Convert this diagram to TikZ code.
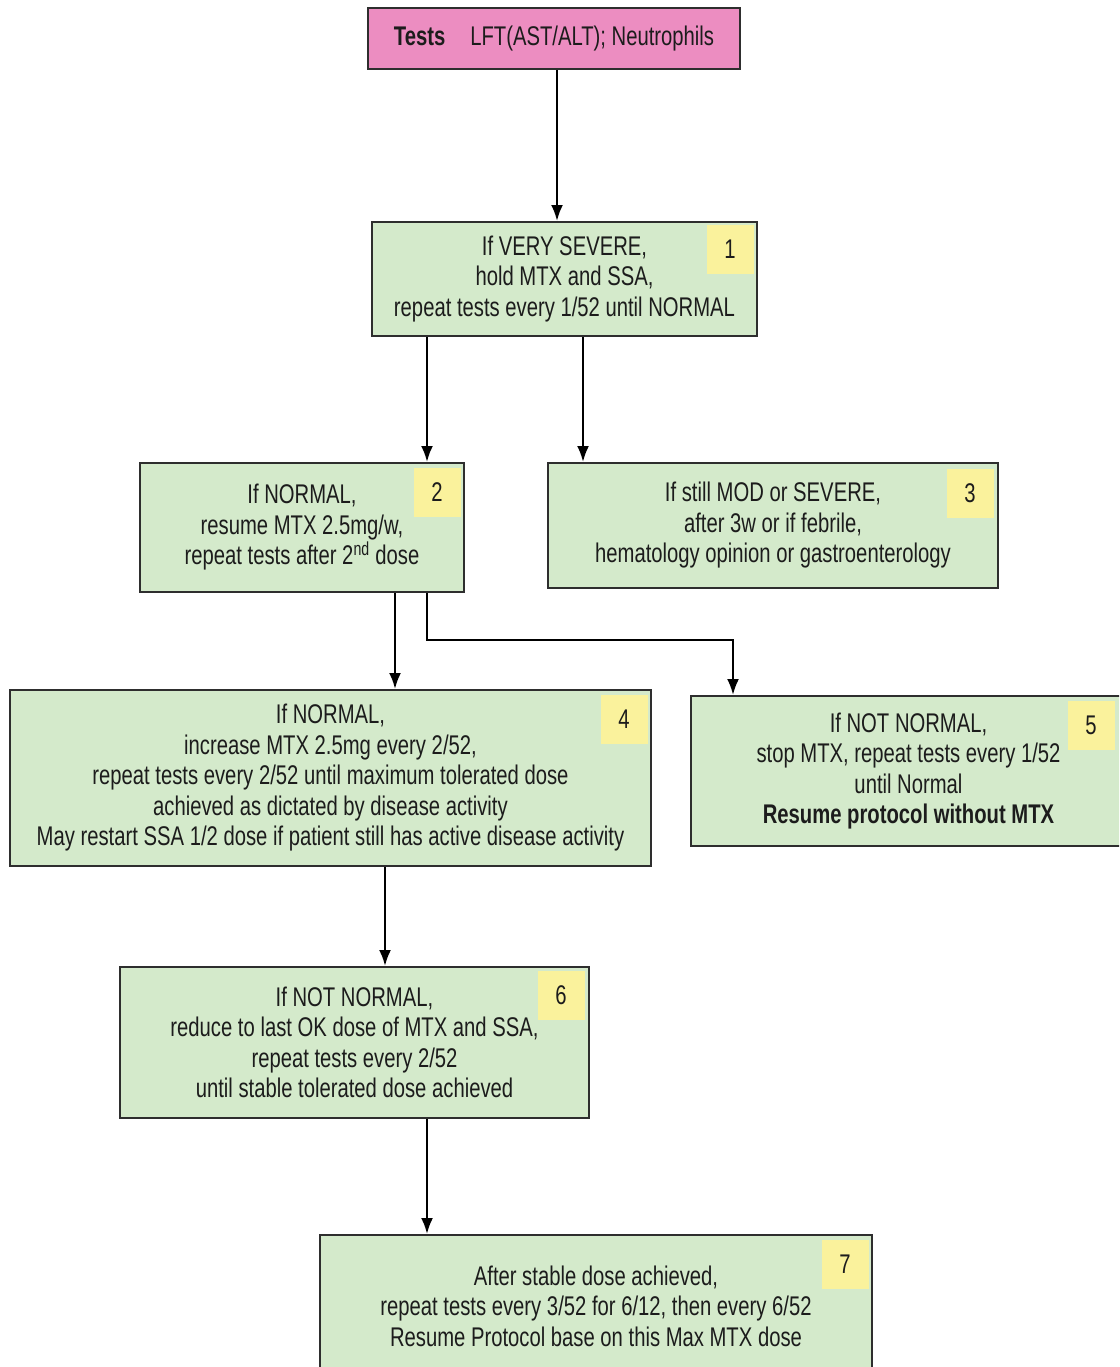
\documentclass[tikz,border=0pt]{standalone}
\usepackage{fontspec}
\setmainfont[FakeStretch=0.75]{Liberation Sans}
\usetikzlibrary{arrows.meta}
\definecolor{boxgreen}{HTML}{D4EACB}
\definecolor{badgeyellow}{HTML}{FAF29C}
\definecolor{testpink}{HTML}{EC8DC1}
\definecolor{edge}{HTML}{2E2E2E}
\definecolor{ink}{HTML}{1C1C1C}
\begin{document}
\begin{tikzpicture}[x=1pt,y=-1pt,
  stepbox/.style={draw=edge, line width=2pt, fill=boxgreen, align=center,
    text=ink, font=\fontsize{27}{30.5}\selectfont, inner sep=0pt},
  testbox/.style={stepbox, fill=testpink},
  badge/.style={fill=badgeyellow, minimum width=47pt, minimum height=49pt,
    inner sep=0pt, text=ink, font=\fontsize{27}{30}\selectfont},
  arr/.style={draw=black, line width=2.3pt, -{Latex[length=16pt,width=12pt]}},
  link/.style={draw=black, line width=2.3pt}]
\clip (0,0) rectangle (1119,1367);
\fill[white] (0,0) rectangle (1119,1367);

% test panel
\node[testbox, minimum width=372pt, minimum height=61pt] (t) at (554,38.5)
  {{\bfseries Tests}\hspace{25pt}LFT(AST/ALT); Neutrophils};

% step boxes
\node[stepbox, minimum width=385pt, minimum height=114pt] (b1) at (564.5,279)
  {If VERY SEVERE,\\ hold MTX and SSA,\\ repeat tests every 1/52 until NORMAL};
\node[badge] (n1) at (730,249) {1};

\node[stepbox, minimum width=324pt, minimum height=129pt] (b2) at (302,527.5)
  {If NORMAL,\\ resume MTX 2.5mg/w,\\ repeat tests after 2\textsuperscript{nd} dose};
\node[badge] (n2) at (437,492) {2};

\node[stepbox, minimum width=450pt, minimum height=125pt] (b3) at (773,525.5)
  {If still MOD or SEVERE,\\ after 3w or if febrile,\\ hematology opinion or gastroenterology};
\node[badge] (n3) at (970,493) {3};

\node[stepbox, minimum width=641pt, minimum height=176pt] (b4) at (330.5,778)
  {If NORMAL,\\ increase MTX 2.5mg every 2/52,\\ repeat tests every 2/52 until maximum tolerated dose\\
   achieved as dictated by disease activity\\ May restart SSA 1/2 dose if patient still has active disease activity};
\node[badge] (n4) at (624,719) {4};

\node[stepbox, minimum width=435pt, minimum height=150pt] (b5) at (908.5,771)
  {If NOT NORMAL,\\ stop MTX, repeat tests every 1/52\\ until Normal\\ \textbf{Resume protocol without MTX}};
\node[badge] (n5) at (1091,725) {5};

\node[stepbox, minimum width=469pt, minimum height=151pt] (b6) at (354.5,1042.5)
  {If NOT NORMAL,\\ reduce to last OK dose of MTX and SSA,\\ repeat tests every 2/52\\ until stable tolerated dose achieved};
\node[badge] (n6) at (561,995) {6};

\node[stepbox, minimum width=552pt, minimum height=142pt] (b7) at (596,1306)
  {After stable dose achieved,\\ repeat tests every 3/52 for 6/12, then every 6/52\\ Resume Protocol base on this Max MTX dose};
\node[badge] (n7) at (845,1264) {7};

% connectors
\draw[arr] (557,0 |- t.south) -- (557,0 |- b1.north);
\draw[arr] (427,0 |- b1.south) -- (427,0 |- b2.north);
\draw[arr] (583,0 |- b1.south) -- (583,0 |- b3.north);
\draw[arr] (395,0 |- b2.south) -- (395,0 |- b4.north);
\coordinate (k) at (733,640);
\draw[arr] (427,0 |- b2.south) |- (k) -- (k |- b5.north);
\draw[arr] (385,0 |- b4.south) -- (385,0 |- b6.north);
\draw[arr] (427,0 |- b6.south) -- (427,0 |- b7.north);
\end{tikzpicture}
\end{document}
